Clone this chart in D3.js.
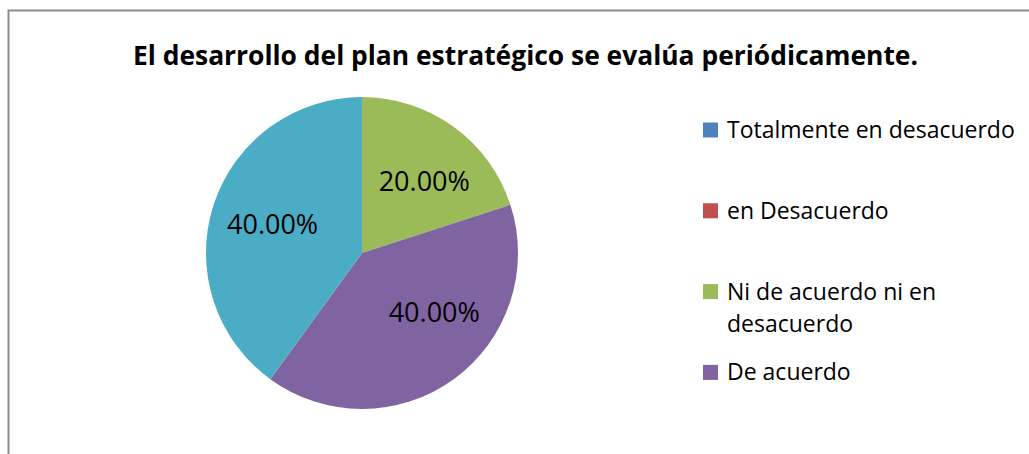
<!DOCTYPE html>
<html>
<head>
<meta charset="utf-8">
<script src="https://cdn.jsdelivr.net/npm/d3@7"></script>
<style>
  body { margin: 0; background: #fff; }
  svg { display: block; font-family: "Open Sans", sans-serif; }
</style>
</head>
<body>
<svg width="1029" height="454"></svg>
<script>
var title = "El desarrollo del plan estratégico se evalúa periódicamente.";
var categories = ["Totalmente en desacuerdo", "en Desacuerdo", "Ni de acuerdo ni en desacuerdo", "De acuerdo", "Totalmente de acuerdo"];
var values = [0, 0, 0.20, 0.40, 0.40];
var colors = ["#4F81BD", "#C0504D", "#9BBB59", "#8064A2", "#4BACC6"];
// the legend in the original only has room for the first four entries
var legendShown = 4;

var svg = d3.select("svg");
var width = +svg.attr("width");
var height = +svg.attr("height");

// chart area frame (runs off the right and bottom of the picture)
svg.append("rect")
    .attr("x", 8.5)
    .attr("y", 10.5)
    .attr("width", width + 20)
    .attr("height", height + 20)
    .attr("fill", "none")
    .attr("stroke", "#8c8c8c")
    .attr("stroke-width", 2);

svg.append("text")
    .attr("x", 525.5)
    .attr("y", 65)
    .attr("text-anchor", "middle")
    .attr("textLength", 785)
    .attr("lengthAdjust", "spacingAndGlyphs")
    .style("font-weight", "bold")
    .style("font-size", "26px")
    .style("fill", "#000")
    .text(title);

var cx = 362, cy = 253, radius = 156;

var pie = d3.pie().sort(null).value(function(d) { return d.value; });
var data = categories.map(function(c, i) { return {name: c, value: values[i], color: colors[i]}; });
var arcs = pie(data);

var arc = d3.arc().innerRadius(0).outerRadius(radius);
var labelArc = d3.arc().innerRadius(94).outerRadius(94);

var g = svg.append("g")
    .attr("transform", "translate(" + cx + "," + cy + ")");

g.selectAll("path")
    .data(arcs)
    .enter().append("path")
    .attr("d", arc)
    .attr("fill", function(d) { return d.data.color; });

// excel's best-fit pushes a couple of labels a bit off the centroid
var nudge = {2: [7, 4], 3: [17, -17], 4: [0, 0]};
var fmt = d3.format(".2%");
g.selectAll(".lbl")
    .data(arcs.filter(function(d) { return d.data.value > 0; }))
    .enter().append("text")
    .attr("class", "lbl")
    .attr("transform", function(d) {
        var c = labelArc.centroid(d), n = nudge[d.index] || [0, 0];
        return "translate(" + (c[0] + n[0]) + "," + (c[1] + n[1]) + ")";
    })
    .attr("text-anchor", "middle")
    .attr("dy", "0.36em")
    .style("font-size", "27px")
    .style("fill", "#000")
    .text(function(d) { return fmt(d.data.value); });

// legend
var legendLines = [["Totalmente en desacuerdo"], ["en Desacuerdo"], ["Ni de acuerdo ni en", "desacuerdo"], ["De acuerdo"]];
var legend = svg.append("g").attr("transform", "translate(703,130)");
var item = legend.selectAll(".item")
    .data(data.slice(0, legendShown))
    .enter().append("g")
    .attr("class", "item")
    .attr("transform", function(d, i) { return "translate(0," + (i * 80.8) + ")"; });

item.append("rect")
    .attr("x", 0)
    .attr("y", -7.5)
    .attr("width", 15)
    .attr("height", 15)
    .attr("fill", function(d) { return d.color; });

item.append("text")
    .attr("x", 24)
    .attr("y", 8)
    .style("font-size", "23px")
    .style("fill", "#000")
    .selectAll("tspan")
    .data(function(d, i) { return legendLines[i]; })
    .enter().append("tspan")
    .attr("x", 24)
    .attr("dy", function(d, i) { return i === 0 ? 0 : 32; })
    .text(function(d) { return d; });
</script>
</body>
</html>
